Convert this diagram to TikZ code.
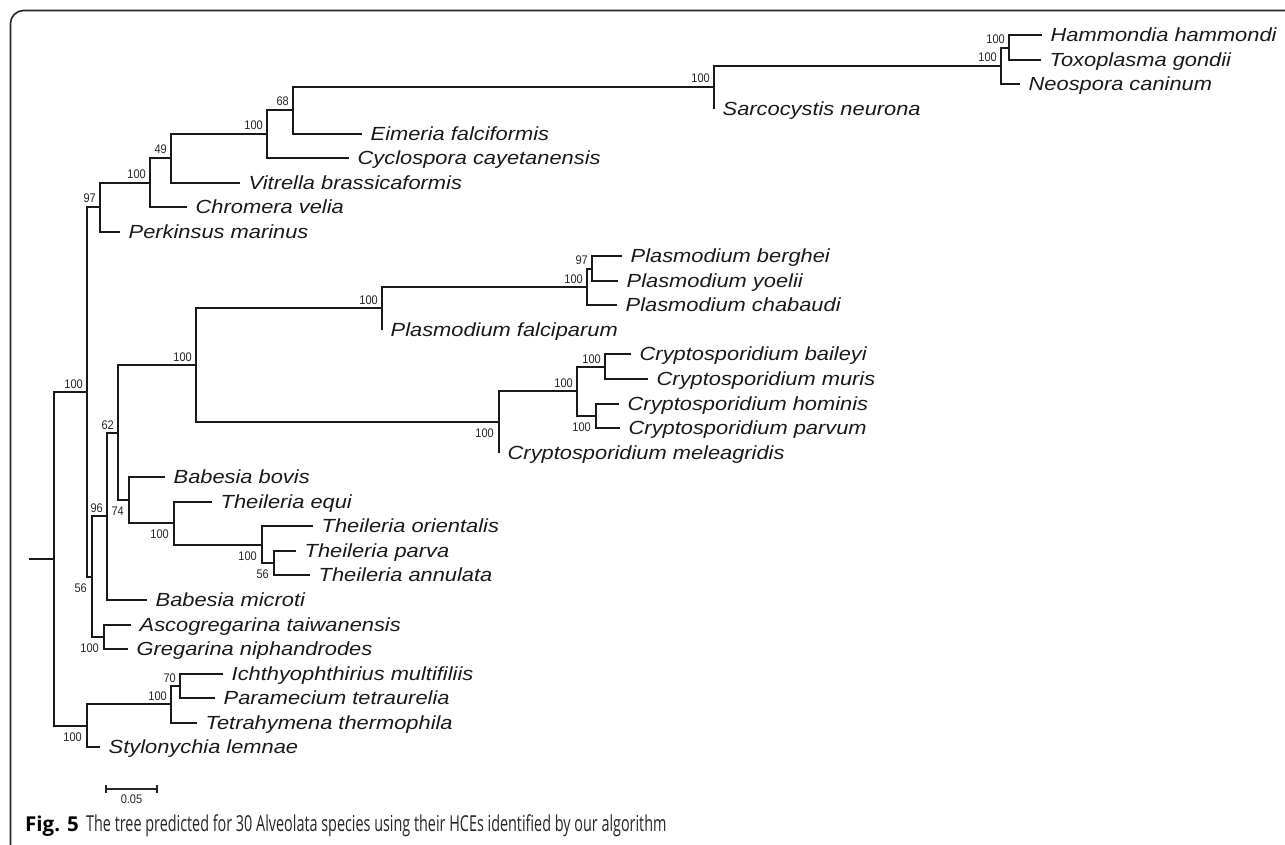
\documentclass[tikz,border=0pt]{standalone}
\usepackage{fontspec}
\setmainfont{Liberation Sans}
\newfontfamily\leaffont[FakeStretch=1.15]{Liberation Sans}
\newfontfamily\bsfont[FakeStretch=0.88]{Liberation Sans}
\newfontfamily\capfont{Open Sans}
\newfontfamily\capcond[FakeStretch=0.654]{Open Sans}
\usetikzlibrary{calc}
\tikzset{
  br/.style={line width=2pt, draw=black!90},
  leaf/.style={anchor=base west, inner sep=0pt, text=black!90, font=\leaffont\itshape\fontsize{19}{19}\selectfont},
  bsa/.style={anchor=base east, inner sep=0pt, text=black!85, font=\bsfont\fontsize{12.5}{12.5}\selectfont},
  bsb/.style={anchor=north east, inner sep=0pt, text=black!85, font=\bsfont\fontsize{12.5}{12.5}\selectfont},
}
\begin{document}
\begin{tikzpicture}[x=1pt,y=-1pt]
\useasboundingbox (0,0) rectangle (1285,845);
% frame
\draw[line width=1.6pt, draw=black!85, rounded corners=13pt] (10.5,845) -- (10.5,10.5) -- (1285,10.5);

% internal nodes
\coordinate (root) at (54,559);
\coordinate (stub) at (29,559);
\coordinate (nA) at (87,392);
\coordinate (nB) at (100,207);
\coordinate (nC) at (150,183);
\coordinate (nD) at (171,158);
\coordinate (nE) at (267,134);
\coordinate (nF) at (293,110);
\coordinate (nG) at (714,87);
\coordinate (nH) at (1001,66);
\coordinate (nI) at (1009,48);
\coordinate (n56) at (92,577);
\coordinate (n96) at (107,516);
\coordinate (n62) at (118,433);
\coordinate (nP) at (196,365);
\coordinate (nPl) at (382,308);
\coordinate (nPr) at (587,287);
\coordinate (n97b) at (592,269);
\coordinate (nCr) at (499,422);
\coordinate (nCr2) at (577,391);
\coordinate (nCba) at (605,367);
\coordinate (nCho) at (596,416);
\coordinate (n74) at (129,500);
\coordinate (nTh) at (174,523);
\coordinate (nTh2) at (262,545);
\coordinate (nTh3) at (274,563);
\coordinate (nGr) at (104,637);
\coordinate (nCi) at (87,726);
\coordinate (nCi2) at (171,704);
\coordinate (n70) at (180,686);

% tips
\coordinate (tHam) at (1042,35);
\coordinate (tTox) at (1041,60);
\coordinate (tNeo) at (1020,84);
\coordinate (tSar) at (714,109);
\coordinate (tEim) at (362,134);
\coordinate (tCyc) at (349,158);
\coordinate (tVit) at (240,183);
\coordinate (tChr) at (187,207);
\coordinate (tPer) at (120,232);
\coordinate (tPbe) at (622,256);
\coordinate (tPyo) at (618,281);
\coordinate (tPch) at (617,305);
\coordinate (tPfa) at (382,330);
\coordinate (tCba) at (631,354);
\coordinate (tCmu) at (648,379);
\coordinate (tCho) at (619,404);
\coordinate (tCpa) at (620,428);
\coordinate (tCme) at (499,453);
\coordinate (tBbo) at (165,477);
\coordinate (tTeq) at (212,502);
\coordinate (tTor) at (313,526);
\coordinate (tTpa) at (296,551);
\coordinate (tTan) at (310,575);
\coordinate (tBmi) at (147,600);
\coordinate (tAsc) at (131,625);
\coordinate (tGre) at (128,649);
\coordinate (tIch) at (223,674);
\coordinate (tPar) at (215,698);
\coordinate (tTet) at (197,723);
\coordinate (tSty) at (100,747);

% branches
\draw[br] (stub) -- (root);
\foreach \p/\c in {root/nA, root/nCi, nA/nB, nA/n56, nB/nC, nB/tPer, nC/nD, nC/tChr,
  nD/nE, nD/tVit, nE/nF, nE/tCyc, nF/nG, nF/tEim, nG/nH, nG/tSar, nH/nI, nH/tNeo,
  nI/tHam, nI/tTox, n56/n96, n56/nGr, n96/n62, n96/tBmi, n62/nP, n62/n74,
  nP/nPl, nP/nCr, nPl/nPr, nPl/tPfa, nPr/n97b, nPr/tPch, n97b/tPbe, n97b/tPyo,
  nCr/nCr2, nCr/tCme, nCr2/nCba, nCr2/nCho, nCba/tCba, nCba/tCmu, nCho/tCho, nCho/tCpa,
  n74/tBbo, n74/nTh, nTh/tTeq, nTh/nTh2, nTh2/tTor, nTh2/nTh3, nTh3/tTpa, nTh3/tTan,
  nGr/tAsc, nGr/tGre, nCi/nCi2, nCi/tSty, nCi2/n70, nCi2/tTet, n70/tIch, n70/tPar}
  \draw[br] (\p) |- (\c);

% leaf labels
\foreach \t/\s in {tHam/Hammondia hammondi, tTox/Toxoplasma gondii, tNeo/Neospora caninum,
  tSar/Sarcocystis neurona, tEim/Eimeria falciformis, tCyc/Cyclospora cayetanensis,
  tVit/Vitrella brassicaformis, tChr/Chromera velia, tPer/Perkinsus marinus,
  tPbe/Plasmodium berghei, tPyo/Plasmodium yoelii, tPch/Plasmodium chabaudi,
  tPfa/Plasmodium falciparum, tCba/Cryptosporidium baileyi, tCmu/Cryptosporidium muris,
  tCho/Cryptosporidium hominis, tCpa/Cryptosporidium parvum, tCme/Cryptosporidium meleagridis,
  tBbo/Babesia bovis, tTeq/Theileria equi, tTor/Theileria orientalis, tTpa/Theileria parva,
  tTan/Theileria annulata, tBmi/Babesia microti, tAsc/Ascogregarina taiwanensis,
  tGre/Gregarina niphandrodes, tIch/Ichthyophthirius multifiliis, tPar/Paramecium tetraurelia,
  tTet/Tetrahymena thermophila, tSty/Stylonychia lemnae}
  \node[leaf] (l\t) at ($(\t)+(8.5,6.5)$) {\s};

% bootstrap values above the branch
\foreach \n/\v in {nI/100, nH/100, nG/100, nF/68, nE/100, nD/49, nC/100, nB/97, nA/100,
  nP/100, n62/62, n96/96, n70/70, nCi2/100, nPl/100, nPr/100, n97b/97, nCr2/100, nCba/100}
  \node[bsa] (b\n) at ($(\n)+(-4,-4)$) {\v};
% bootstrap values below the branch
\foreach \n/\v in {n74/74, nTh/100, nTh2/100, nTh3/56, n56/56, nGr/100, nCi/100, nCr/100, nCho/100}
  \node[bsb] (b\n) at ($(\n)+(-5,7)$) {\v};

% scale bar
\coordinate (sbL) at (106,789);
\coordinate (sbR) at (157,789);
\draw[line width=1.2pt, draw=black!85] (sbL) -- (sbR);
\draw[line width=1.2pt, draw=black!85] ($(sbL)+(0,-4)$) -- ($(sbL)+(0,4)$);
\draw[line width=1.2pt, draw=black!85] ($(sbR)+(0,-4)$) -- ($(sbR)+(0,4)$);
\node[bsb, anchor=north] (sbt) at ($(sbL)!0.5!(sbR)+(0,6)$) {0.05};

% caption
\node[anchor=base west, inner sep=0pt, font=\capfont\bfseries\fontsize{20.5}{20.5}\selectfont] (capA) at (25,831.5) {Fig. 5};
\node[anchor=base west, inner sep=0pt, text=black!85, font=\capcond\fontsize{22}{22}\selectfont] (capB) at (86,831.5) {The tree predicted for 30 Alveolata species using their HCEs identified by our algorithm};
\end{tikzpicture}
\end{document}
